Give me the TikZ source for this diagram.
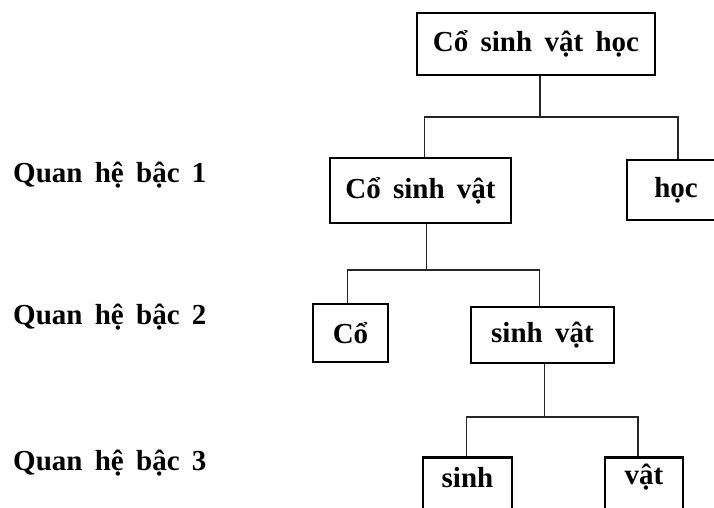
\documentclass[tikz,border=0pt]{standalone}
\usepackage{fontspec}
\setmainfont{Liberation Serif}[WordSpace=1.7]
\begin{document}
\begin{tikzpicture}[x=1pt,y=-1pt,
  box/.style={draw=black, line width=2.8pt, rectangle, inner sep=0pt, font=\fontsize{29}{33}\selectfont\bfseries},
  txt/.style={inner sep=0pt, font=\fontsize{29}{33}\selectfont\bfseries},
  conn/.style={draw=black!85, line width=1.1pt}]
\useasboundingbox (0,0) rectangle (714,508);
\begin{scope}
\clip (0,0) rectangle (714,508);
% boxes
\node[box, minimum width=238, minimum height=62] (top) at (536,44) {Cổ sinh vật học};
\node[box, minimum width=181, minimum height=65] (l1) at (420.5,190.5) {Cổ sinh vật};
\node[box, minimum width=98, minimum height=60] (r1) at (676,190) {học};
\node[box, minimum width=75, minimum height=58] (l2) at (350.5,333) {Cổ};
\node[box, minimum width=143, minimum height=56] (r2) at (542.5,335) {sinh vật};
\node[box, minimum width=89, minimum height=80, anchor=north] (l3) at (467.5,456) {};
\node[txt] (l3t) at ([yshift=-22]l3.north) {sinh};
\node[box, minimum width=78, minimum height=80, anchor=north] (r3) at (644,456) {};
\node[txt] (r3t) at ([yshift=-21]r3.north) {vật};
% connectors
\coordinate (b1) at (0,117);
\coordinate (b2) at (0,270);
\coordinate (b3) at (0,417);
\draw[conn] ([xshift=4]top.south) -- ([xshift=4]top.south |- b1);
\draw[conn] ([xshift=4]l1.north) -- ([xshift=4]l1.north |- b1) -- ([xshift=2]r1.north |- b1) -- ([xshift=2]r1.north);
\draw[conn] ([xshift=6]l1.south) -- ([xshift=6]l1.south |- b2);
\draw[conn] ([xshift=-3]l2.north) -- ([xshift=-3]l2.north |- b2) -- ([xshift=-3]r2.north |- b2) -- ([xshift=-3]r2.north);
\draw[conn] ([xshift=2]r2.south) -- ([xshift=2]r2.south |- b3);
\draw[conn] ([xshift=-1]l3.north) -- ([xshift=-1]l3.north |- b3) -- ([xshift=-6]r3.north |- b3) -- ([xshift=-6]r3.north);
\end{scope}
% level labels
\node[txt, anchor=west] (q1) at (13,175) {Quan hệ bậc 1};
\node[txt, anchor=west] (q2) at (13,317) {Quan hệ bậc 2};
\node[txt, anchor=west] (q3) at (13,463) {Quan hệ bậc 3};
\end{tikzpicture}
\end{document}
